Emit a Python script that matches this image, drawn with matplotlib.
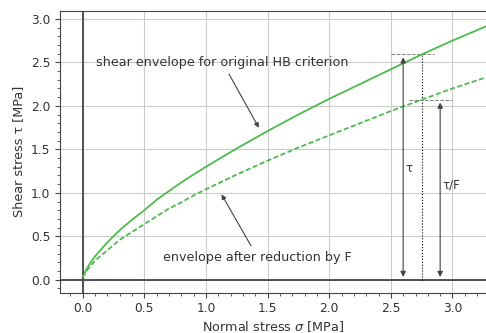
import matplotlib
matplotlib.use("Agg")
import matplotlib.pyplot as plt
from matplotlib.ticker import AutoMinorLocator

# values
sigma = [0.0, 0.01, 0.03, 0.06, 0.1, 0.15, 0.2, 0.3, 0.4, 0.5, 0.6, 0.7,
         0.8, 0.9, 1.0, 1.25, 1.5, 1.75, 2.0, 2.25, 2.5, 2.75, 3.0, 3.3]
tau_hb = [0.04, 0.06, 0.12, 0.19, 0.27, 0.35, 0.43, 0.57, 0.69, 0.80, 0.92,
          1.02, 1.12, 1.21, 1.30, 1.51, 1.71, 1.90, 2.08, 2.25, 2.42, 2.59,
          2.75, 2.93]
tau_red = [0.03, 0.05, 0.10, 0.15, 0.22, 0.28, 0.34, 0.46, 0.55, 0.64, 0.73,
           0.82, 0.89, 0.97, 1.04, 1.21, 1.37, 1.52, 1.66, 1.80, 1.94, 2.07,
           2.20, 2.34]

sigma_ref = 2.75
tau_ref = 2.59
tau_ref_red = 2.07

green = "#4cbb4c"
dark = "#444444"


def main():
    fig = plt.figure(figsize=(4.86, 3.33), dpi=100)
    ax = fig.add_axes([60 / 486, 40.5 / 333, 427 / 486, 281.5 / 333])

    ax.plot(sigma, tau_hb, color=green, lw=1.3, zorder=3)
    ax.plot(sigma, tau_red, color=green, lw=1.3, ls="--", dashes=(2.8, 1.4),
            zorder=3)

    ax.axhline(0, color=dark, lw=1.3, zorder=2)
    ax.axvline(0, color=dark, lw=1.3, zorder=2)

    # dimension lines for tau and tau/F
    ax.plot([sigma_ref, sigma_ref], [0, tau_ref], color="black", lw=0.8, ls=":")
    ax.plot([sigma_ref - 0.25, sigma_ref + 0.1], [tau_ref, tau_ref],
            color="gray", lw=0.7, ls="--")
    ax.plot([sigma_ref - 0.1, sigma_ref + 0.25], [tau_ref_red, tau_ref_red],
            color="gray", lw=0.7, ls="--")
    arr = dict(arrowstyle="<|-|>", color=dark, lw=0.8, mutation_scale=8,
               shrinkA=2, shrinkB=2)
    ax.annotate("", xy=(sigma_ref - 0.15, tau_ref), xytext=(sigma_ref - 0.15, 0),
                arrowprops=arr)
    ax.annotate("", xy=(sigma_ref + 0.15, tau_ref_red),
                xytext=(sigma_ref + 0.15, 0), arrowprops=arr)
    ax.text(sigma_ref - 0.13, 1.28, "τ", fontsize=8.5, color="#333333",
            ha="left", va="center")
    ax.text(sigma_ref + 0.17, 1.09, "τ/F", fontsize=8.5, color="#333333",
            ha="left", va="center")

    pointer = dict(arrowstyle="-|>", color=dark, lw=0.8, mutation_scale=7)
    ax.annotate("shear envelope for original HB criterion", xy=(1.44, 1.72),
                xytext=(1.134, 2.5), ha="center", va="center", fontsize=9.2,
                color="#333333", arrowprops=pointer)
    ax.annotate("envelope after reduction by F", xy=(1.115, 1.01),
                xytext=(1.42, 0.256), ha="center", va="center", fontsize=9.2,
                color="#333333", arrowprops=pointer)

    ax.set_xlim(-0.184, 3.28)
    ax.set_ylim(-0.146, 3.09)
    ax.set_xticks([0.0, 0.5, 1.0, 1.5, 2.0, 2.5, 3.0])
    ax.set_yticks([0.0, 0.5, 1.0, 1.5, 2.0, 2.5, 3.0])
    ax.xaxis.set_minor_locator(AutoMinorLocator())
    ax.yaxis.set_minor_locator(AutoMinorLocator())
    ax.tick_params(which="major", length=3.5, color=dark, labelsize=8.8,
                   labelcolor="#333333")
    ax.tick_params(which="minor", length=2, color=dark)
    ax.grid(True, color="#cccccc", lw=0.8)
    for s in ax.spines.values():
        s.set_color(dark)

    ax.set_xlabel("Normal stress $\\sigma$ [MPa]", fontsize=9.2, color="#333333",
                  labelpad=3)
    ax.set_ylabel("Shear stress τ [MPa]", fontsize=9.2, color="#333333",
                  labelpad=4)

    fig.savefig("out.png", dpi=100)


if __name__ == "__main__":
    main()
